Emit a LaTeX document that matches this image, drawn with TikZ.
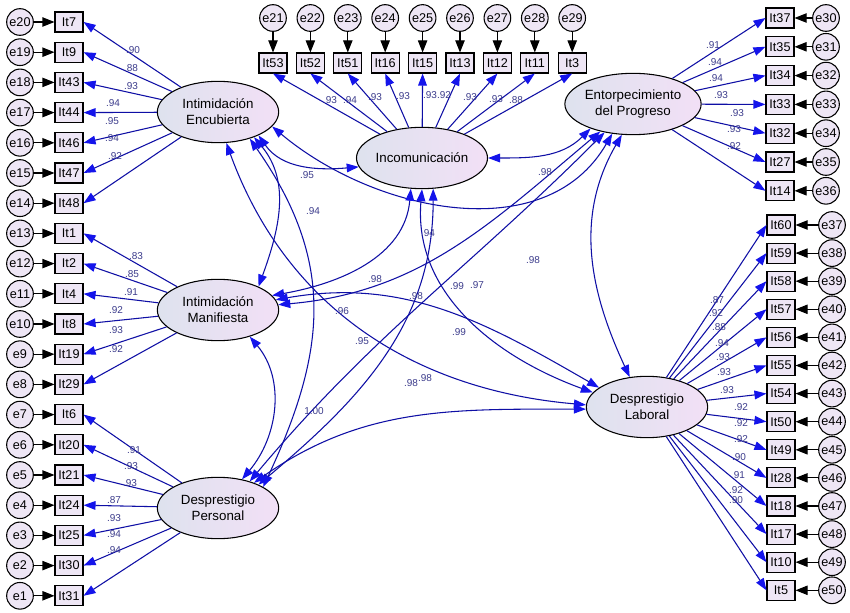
\documentclass[tikz,border=0pt]{standalone}
\usepackage{fontspec}
\setmainfont{Liberation Sans}
\usetikzlibrary{arrows.meta,shapes.geometric}
\definecolor{ln}{RGB}{15,15,165}
\definecolor{tip}{RGB}{20,20,235}
\definecolor{lab}{RGB}{60,60,140}
\definecolor{boxc}{RGB}{238,230,245}
\definecolor{elL}{RGB}{222,226,238}
\definecolor{elR}{RGB}{242,224,246}
\begin{document}
\begin{tikzpicture}[x=0.75pt,y=-0.75pt,
 obs/.style={draw,thick,fill=boxc,minimum width=21pt,minimum height=15pt,inner sep=1pt,font=\fontsize{9.5}{10}\selectfont},
 err/.style={circle,draw,thick,fill=boxc,minimum size=20pt,inner sep=0pt,font=\fontsize{9.5}{10}\selectfont},
 lat/.style={ellipse,draw,thick,minimum width=91pt,minimum height=46pt,inner sep=0pt,left color=elL,right color=elR,align=center,font=\fontsize{10}{12}\selectfont},
 ld/.style={ln,thick,-{Triangle[length=9pt,width=6.5pt,color=tip]}},
 cov/.style={ln,thick,{Triangle[length=9pt,width=6.5pt,color=tip]}-{Triangle[length=9pt,width=6.5pt,color=tip]}},
 earr/.style={black,thick,-{Triangle[length=9pt,width=7pt]}},
 lbl/.style={lab,font=\fontsize{7.5}{8}\selectfont,inner sep=0pt}]
\useasboundingbox (0,0) rectangle (850,613);
\fill[white] (0,0) rectangle (850,613);

% latents
\node[lat] (IE) at (218,112) {Intimidación\\Encubierta};
\node[lat] (IM) at (218,310) {Intimidación\\Manifiesta};
\node[lat] (DP) at (218,508) {Desprestigio\\Personal};
\node[lat] (Inc) at (422,158) {Incomunicación};
\node[lat] (EP) at (633,104) {Entorpecimiento\\del Progreso};
\node[lat] (DL) at (647,407) {Desprestigio\\Laboral};

% left column
\foreach \n/\e/\f [count=\i from 0] in {It7/e20/IE,It9/e19/IE,It43/e18/IE,It44/e17/IE,It46/e16/IE,It47/e15/IE,It48/e14/IE,It1/e13/IM,It2/e12/IM,It4/e11/IM,It8/e10/IM,It19/e9/IM,It29/e8/IM,It6/e7/DP,It20/e6/DP,It21/e5/DP,It24/e4/DP,It25/e3/DP,It30/e2/DP,It31/e1/DP}{
 \node[obs] (\n) at (69,{22+\i*30.2}) {\n};
 \node[err] (\e) at (20,{22+\i*30.2}) {\e};
 \draw[earr] (\e) -- (\n);
 \draw[ld] (\f) -- (\n.east);
}
% top row
\foreach \n/\e [count=\i from 0] in {It53/e21,It52/e22,It51/e23,It16/e24,It15/e25,It13/e26,It12/e27,It11/e28,It3/e29}{
 \node[obs] (\n) at ({273+\i*37.4},63) {\n};
 \node[err] (\e) at ({273+\i*37.4},18) {\e};
 \draw[earr] (\e) -- (\n);
 \draw[ld] (Inc) -- (\n.south);
}
% right top
\foreach \n/\e [count=\i from 0] in {It37/e30,It35/e31,It34/e32,It33/e33,It32/e34,It27/e35,It14/e36}{
 \node[obs] (\n) at (780,{18+\i*28.8}) {\n};
 \node[err] (\e) at (826,{18+\i*28.8}) {\e};
 \draw[earr] (\e) -- (\n);
 \draw[ld] (EP) -- (\n.west);
}
% right bottom
\foreach \n/\e [count=\i from 0] in {It60/e37,It59/e38,It58/e39,It57/e40,It56/e41,It55/e42,It54/e43,It50/e44,It49/e45,It28/e46,It18/e47,It17/e48,It10/e49,It5/e50}{
 \node[obs] (\n) at (781,{225+\i*28.1}) {\n};
 \node[err] (\e) at (832,{225+\i*28.1}) {\e};
 \draw[earr] (\e) -- (\n);
 \draw[ld] (DL) -- (\n.west);
}

% covariances
\draw[cov] (IE.-30) to[out=-55,in=185] (Inc.188);
\draw[cov] (IE.-35) to[out=-50,in=70] (IM.30);
\draw[cov] (IE.-40) to[out=-55,in=65,looseness=1.1] (DP.25);
\draw[cov] (IE.-75) to[out=-70,in=175] (DL.178);
\draw[cov] (IE.-15) to[out=-40,in=-120] (EP.-125);
\draw[cov] (Inc.-110) to[out=-95,in=10] (IM.15);
\draw[cov] (Inc.-90) to[out=-95,in=160] (DL.165);
\draw[cov] (Inc.-70) to[out=-90,in=40] (DP.30);
\draw[cov] (Inc.east) to[out=0,in=-135] (EP.-150);
\draw[cov] (EP.-140) to[out=-140,in=5] (IM.5);
\draw[cov] (EP.-135) to[out=-135,in=50] (DP.40);
\draw[cov] (EP.-110) to[out=-120,in=115] (DL.120);
\draw[cov] (IM.10) to[out=10,in=150] (DL.158);
\draw[cov] (IM.-40) to[out=-50,in=50] (DP.50);
\draw[cov] (DP.35) to[out=35,in=180] (DL.182);

% labels
\foreach \x/\y/\t [count=\k] in {133/50/.90,131/68/.88,131/86/.93,113/103/.94,112/121/.95,112/138/.94,115/156/.92,
 136/256/.83,132/274/.85,131/292/.91,116/310/.92,116/330/.93,116/349/.92,
 134/450/.91,131/466/.93,130/483/.93,114/500/.87,114/518/.93,114/534/.94,114/550/.94,
 330/100/.93,350/100/.94,375/97/.93,403/96/.93,430/95/.93,444/95/.92,470/97/.93,496/99/.93,516/100/.88,
 713/45/.91,715/62/.94,716/78/.94,721/95/.93,737/113/.93,734/129/.93,734/146/.92,
 717/300/.87,716/313/.92,719/327/.88,722/343/.94,723/357/.93,724/372/.93,727/390/.93,741/407/.92,741/423/.92,741/439/.92,739/457/.90,738/475/.91,736/490/.92,736/500/.90,
 307/175/.95,313/211/.94,545/172/.98,428/233/.94,533/260/.98,375/279/.98,416/296/.98,457/286/.99,477/285/.97,342/311/.96,362/341/.95,459/332/.99,411/383/.98,425/378/.98,314/411/1.00}{
 \node[lbl] (lb\k) at (\x,\y) {\t};
}
\end{tikzpicture}
\end{document}
